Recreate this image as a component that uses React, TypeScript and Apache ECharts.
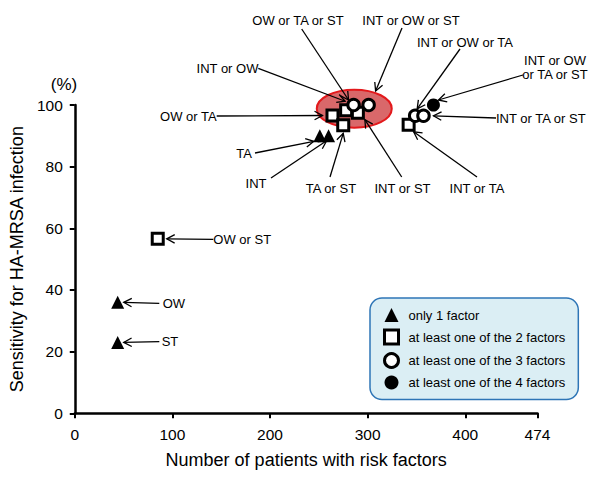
import React, { useEffect, useRef } from "react";
import * as echarts from "echarts";

// ---- Data ----
const oneFactorLabels = ["TA", "INT", "OW", "ST"];
const oneFactorX = [251, 260, 44, 44];
const oneFactorY = [90, 90, 36, 23];

const twoFactorLabels = ["OW or TA", "TA or ST", "INT or OW", "INT or ST", "OW or ST", "INT or TA"];
const twoFactorX = [264, 275, 278, 290, 85, 342];
const twoFactorY = [96.6, 93.4, 98.3, 97.5, 56.6, 93.6];

const threeFactorLabels = ["OW or TA or ST", "INT or OW or ST", "INT or OW or TA", "INT or TA or ST"];
const threeFactorX = [285.6, 301, 348.7, 357.2];
const threeFactorY = [100, 100, 96.5, 96.5];

const fourFactorLabels = ["INT or OW or TA or ST"];
const fourFactorX = [367.4];
const fourFactorY = [100];

const legendNames = [
  "only 1 factor",
  "at least one of the 2 factors",
  "at least one of the 3 factors",
  "at least one of the 4 factors",
];

const xTicks = { min: 0, max: 474, interval: 100 };
const yTicks = { min: 0, max: 100, interval: 20 };

// ---- Annotation layout (pixel positions of labels/arrow tails, tip offsets from the point) ----
type Ann = {
  target: string;
  text: string;
  tx: number;
  ty: number;
  align: "left" | "center" | "right";
  tail: [number, number];
  tipOff: [number, number];
};
const annotations: Ann[] = [
  { target: "OW or TA or ST", text: "OW or TA or ST", tx: 298, ty: 20, align: "center", tail: [301.7, 29], tipOff: [-5, -5] },
  { target: "INT or OW or ST", text: "INT or OW or ST", tx: 411, ty: 20, align: "center", tail: [402, 28], tipOff: [7, -14] },
  { target: "INT or OW or TA", text: "INT or OW or TA", tx: 465, ty: 42, align: "center", tail: [460, 49], tipOff: [2, -7] },
  { target: "INT or OW or TA or ST", text: "INT or OW\nor TA or ST", tx: 555, ty: 67, align: "center", tail: [523, 75], tipOff: [5, -5] },
  { target: "INT or TA or ST", text: "INT or TA or ST", tx: 496, ty: 118, align: "left", tail: [496, 118], tipOff: [10, 0] },
  { target: "INT or TA", text: "INT or TA", tx: 477, ty: 188, align: "center", tail: [477, 177], tipOff: [5, 7] },
  { target: "INT or ST", text: "INT or ST", tx: 402.5, ty: 188, align: "center", tail: [401.7, 177], tipOff: [7, 7] },
  { target: "TA or ST", text: "TA or ST", tx: 331, ty: 188, align: "center", tail: [330, 177], tipOff: [0, 8] },
  { target: "INT", text: "INT", tx: 256, ty: 183, align: "center", tail: [271, 178], tipOff: [-2, 5] },
  { target: "TA", text: "TA", tx: 244, ty: 153, align: "center", tail: [255, 153], tipOff: [-6, 5.5] },
  { target: "INT or OW", text: "INT or OW", tx: 227.5, ty: 68, align: "center", tail: [258.3, 68.3], tipOff: [-1, -9] },
  { target: "OW or TA", text: "OW or TA", tx: 216.7, ty: 116, align: "right", tail: [216.7, 116], tipOff: [-10, 0] },
  { target: "OW or ST", text: "OW or ST", tx: 213.3, ty: 239.3, align: "left", tail: [213.3, 239.3], tipOff: [9, 0] },
  { target: "OW", text: "OW", tx: 162.7, ty: 303.3, align: "left", tail: [159.3, 303.3], tipOff: [6, 0] },
  { target: "ST", text: "ST", tx: 161.7, ty: 341.7, align: "left", tail: [159.3, 341.7], tipOff: [6, 0] },
];

const FONT = '"Liberation Sans", Arial, Helvetica, sans-serif';

function zip(xs: number[], ys: number[], names: string[]) {
  return xs.map((x, i) => ({ name: names[i], value: [x, ys[i]] }));
}

export default function App() {
  const ref = useRef<HTMLDivElement>(null);
  useEffect(() => {
    if (!ref.current) return;
    const chart = echarts.init(ref.current, undefined, { renderer: "svg" });
    const solid = { color: "#000", opacity: 1 };
    const hollow = { color: "#fff", borderColor: "#000", borderWidth: 3, opacity: 1 };
    const option: any = {
      animation: false,
      backgroundColor: "#ffffff",
      textStyle: { fontFamily: FONT },
      grid: { left: 74, top: 105, width: 463.5, height: 308.3, containLabel: false },
      xAxis: {
        type: "value",
        min: xTicks.min,
        max: xTicks.max,
        interval: xTicks.interval,
        name: "Number of patients with risk factors",
        nameLocation: "middle",
        nameGap: 38,
        nameTextStyle: { fontSize: 18, color: "#000", fontFamily: FONT, verticalAlign: "top" },
        axisLine: { lineStyle: { color: "#000", width: 2.5 } },
        axisTick: { show: true, inside: false, length: 5, lineStyle: { color: "#000", width: 2 } },
        axisLabel: { fontSize: 15.5, color: "#000", margin: 13, fontFamily: FONT },
        splitLine: { show: false },
      },
      yAxis: {
        type: "value",
        min: yTicks.min,
        max: yTicks.max,
        interval: yTicks.interval,
        name: "Sensitivity for HA-MRSA infection",
        nameLocation: "middle",
        nameGap: 45,
        nameRotate: 90,
        nameTextStyle: { fontSize: 18, color: "#000", fontFamily: FONT },
        axisLine: { lineStyle: { color: "#000", width: 2.5 } },
        axisTick: { show: true, inside: false, length: 5, lineStyle: { color: "#000", width: 2 } },
        axisLabel: { fontSize: 15.5, color: "#000", margin: 12, fontFamily: FONT },
        splitLine: { show: false },
      },
      legend: {
        show: true,
        selectedMode: false,
        orient: "vertical",
        left: 370,
        top: 298,
        padding: [10, 13, 10, 13],
        itemGap: 6.5,
        itemWidth: 14,
        itemHeight: 14,
        backgroundColor: "#dbeef4",
        borderColor: "#2e75b6",
        borderWidth: 1.5,
        borderRadius: 12,
        textStyle: { fontSize: 13, color: "#000", fontFamily: FONT, padding: [0, 0, 0, 5] },
        data: [
          { name: legendNames[0], icon: "triangle", itemStyle: { color: "#000", borderWidth: 0 } },
          { name: legendNames[1], icon: "rect", itemStyle: { color: "#fff", borderColor: "#000", borderWidth: 3 } },
          { name: legendNames[2], icon: "circle", itemStyle: { color: "#fff", borderColor: "#000", borderWidth: 3 } },
          { name: legendNames[3], icon: "circle", itemStyle: { color: "#000", borderWidth: 0 } },
        ],
      },
      series: [
        {
          name: legendNames[0],
          type: "scatter",
          symbol: "triangle",
          symbolSize: 13,
          itemStyle: solid,
          data: zip(oneFactorX, oneFactorY, oneFactorLabels),
          z: 3,
        },
        {
          name: legendNames[1],
          type: "scatter",
          symbol: "rect",
          symbolSize: 11,
          itemStyle: hollow,
          data: zip(twoFactorX, twoFactorY, twoFactorLabels),
          z: 4,
        },
        {
          name: legendNames[2],
          type: "scatter",
          symbol: "circle",
          symbolSize: 11.5,
          itemStyle: hollow,
          data: zip(threeFactorX, threeFactorY, threeFactorLabels),
          z: 5,
        },
        {
          name: legendNames[3],
          type: "scatter",
          symbol: "circle",
          symbolSize: 13,
          itemStyle: solid,
          data: zip(fourFactorX, fourFactorY, fourFactorLabels),
          z: 6,
        },
      ],
    };
    chart.setOption(option);

    // Build annotation graphics from the chart's own coordinate conversion
    const all: Record<string, [number, number]> = {};
    const add = (xs: number[], ys: number[], names: string[]) =>
      names.forEach((n, i) => (all[n] = [xs[i], ys[i]]));
    add(oneFactorX, oneFactorY, oneFactorLabels);
    add(twoFactorX, twoFactorY, twoFactorLabels);
    add(threeFactorX, threeFactorY, threeFactorLabels);
    add(fourFactorX, fourFactorY, fourFactorLabels);

    const toPx = (p: [number, number]) =>
      chart.convertToPixel({ gridIndex: 0 }, p) as unknown as [number, number];

    const graphics: any[] = [];
    // highlight ellipse around the 100% cluster
    const ec = toPx([286.3, 98.8]);
    graphics.push({
      type: "ellipse",
      z: 1,
      shape: { cx: ec[0], cy: ec[1], rx: 37.5, ry: 19 },
      style: { fill: "#d9686a", stroke: "#e3191c", lineWidth: 2 },
    });

    annotations.forEach((a) => {
      const p = toPx(all[a.target]);
      const tip: [number, number] = [p[0] + a.tipOff[0], p[1] + a.tipOff[1]];
      const [sx, sy] = a.tail;
      const dx = tip[0] - sx;
      const dy = tip[1] - sy;
      const len = Math.sqrt(dx * dx + dy * dy) || 1;
      const ux = dx / len;
      const uy = dy / len;
      const L = 9;
      const ang = (28 * Math.PI) / 180;
      const rot = (s: number) => {
        const c = Math.cos(s * ang);
        const si = Math.sin(s * ang);
        const rx = ux * c - uy * si;
        const ry = ux * si + uy * c;
        return [tip[0] - L * rx, tip[1] - L * ry];
      };
      graphics.push({
        type: "line",
        z: 20,
        shape: { x1: sx, y1: sy, x2: tip[0], y2: tip[1] },
        style: { stroke: "#000", lineWidth: 1.3 },
      });
      graphics.push({
        type: "polyline",
        z: 20,
        shape: { points: [rot(1), tip, rot(-1)] },
        style: { stroke: "#000", lineWidth: 1.3, fill: null },
      });
      graphics.push({
        type: "text",
        z: 21,
        style: {
          text: a.text,
          x: a.tx,
          y: a.ty,
          fill: "#000",
          fontSize: 13,
          fontFamily: FONT,
          align: a.align,
          verticalAlign: "middle",
          lineHeight: 14,
        },
      });
    });

    graphics.push({
      type: "text",
      z: 21,
      style: {
        text: "(%)",
        x: 64,
        y: 84,
        fill: "#000",
        fontSize: 17,
        fontFamily: FONT,
        align: "center",
        verticalAlign: "middle",
      },
    });

    chart.setOption({ graphic: graphics });

    return () => chart.dispose();
  }, []);
  return (
    <div
      ref={ref}
      style={{ position: "fixed", left: 0, top: 0, width: 600, height: 484, background: "#fff" }}
    />
  );
}
